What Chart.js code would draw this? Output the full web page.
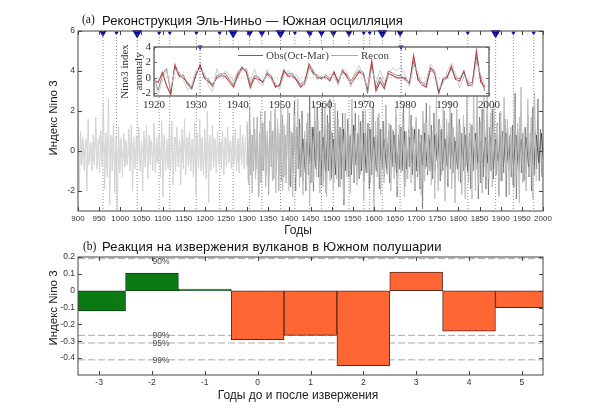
<!DOCTYPE html>
<html>
<head>
<meta charset="utf-8">
<script src="https://cdn.jsdelivr.net/npm/chart.js@4"></script>
<style>
    body { margin: 0; background: #fff; width: 600px; height: 413px; overflow: hidden; }
    canvas { position: absolute; left: 0; }
    #mainChart { top: 0; }
    #insetChart { top: 0; }
    #responseChart { top: 240px; }
    .title { position: absolute; font-family: "Liberation Sans"; font-size: 13px; color: #111; white-space: nowrap; }
    .tag { position: absolute; font-family: "Liberation Serif"; font-size: 11.5px; color: #111; }
    .xlabel { position: absolute; font-family: "Liberation Sans"; font-size: 12px; color: #222; white-space: nowrap; transform: translate(-50%, -50%); }
    .ylabel { position: absolute; font-family: "Liberation Sans"; font-size: 11.5px; color: #222; white-space: nowrap; transform: translate(-50%, -50%) rotate(-90deg); }
</style>
</head>
<body>
<canvas id="mainChart" width="600" height="240"></canvas>
<canvas id="responseChart" width="600" height="173"></canvas>
<canvas id="insetChart" width="600" height="115"></canvas>
<div class="tag" style="left:82px;top:13px">(a)</div>
<div class="title" style="left:102px;top:13px;letter-spacing:.08px">Реконструкция Эль-Ниньо — Южная осцилляция</div>
<div class="tag" style="left:83px;top:240px">(b)</div>
<div class="title" style="left:102px;top:239px;letter-spacing:.15px">Реакция на извержения вулканов в Южном полушарии</div>
<div class="ylabel" style="left:53px;top:118px">Индекс Nino 3</div>
<div class="xlabel" style="left:298px;top:230px">Годы</div>
<div class="ylabel" style="left:53px;top:308px">Индекс Nino 3</div>
<div class="xlabel" style="left:298px;top:395px">Годы до и после извержения</div>

<script>
// main reconstruction, every 3 years from 900
const reconEarly = [
    1.9,-2.0,1.0,-0.7,0.5,-1.0,0.6,-2.0,1.6,-0.6,0.4,-1.0,0.8,-0.7,1.7,-0.9,0.6,-1.1,1.0,-0.8,
    2.4,-1.9,0.9,-1.3,2.6,-2.7,0.8,-1.0,1.4,-2.1,0.7,-3.0,1.2,-1.1,0.6,-1.3,0.9,-0.8,0.5,-0.7,
    1.1,-1.0,1.3,-2.0,0.7,-0.9,0.8,-0.6,1.2,-1.0,0.5,-2.0,1.0,-0.8,1.3,-1.4,0.8,-0.7,0.5,-1.0,
    1.4,-1.1,0.7,-0.6,0.9,-1.3,1.5,-2.3,0.8,-1.0,0.6,-0.9,1.3,-1.0,1.5,-1.7,0.7,-1.0,1.2,-0.8,
    0.6,-1.7,1.1,-0.9,1.6,-1.2,0.7,-0.8,1.0,-1.0,0.6,-1.3,1.4,-2.2,0.9,-0.9,1.6,-1.0,0.7,-1.2,
    1.1,-1.4,2.0,-2.6,0.8,-1.0,1.3,-0.8,0.6,-1.1,1.0,-0.7,0.5,-0.9,1.0,-1.2,0.7,-0.8,1.2,-0.6,
    0.5,-0.9,0.8,-0.7,1.1,-1.0,0.6,-1.1,1.3,-0.7,0.8,-0.9,0.7,-0.8
];
// low amplitude band of the early part, every 5 years from 901
const reconEarlyCore = [
    0.4,-0.5,0.7,-0.3,0.5,-0.7,0.3,-0.4,0.6,-0.5,0.8,-0.6,0.4,-0.8,0.6,-0.4,0.7,-0.5,0.3,-0.6,
    0.5,-0.4,0.6,-0.7,0.4,-0.3,0.5,-0.6,0.7,-0.4,0.3,-0.5,0.6,-0.7,0.5,-0.3,0.4,-0.6,0.8,-0.5,
    0.6,-0.4,0.3,-0.7,0.5,-0.5,0.7,-0.3,0.4,-0.6,0.6,-0.4,0.5,-0.7,0.3,-0.5,0.7,-0.4,0.5,-0.6,
    0.4,-0.3,0.6,-0.5,0.7,-0.6,0.3,-0.4,0.5,-0.7,0.6,-0.3,0.4,-0.5,0.7,-0.6,0.5,-0.4
];
// transition, every 3 years from 1300
const reconMiddle = [
    1.3,-1.5,2.2,-1.2,0.8,-1.0,1.1,-0.9,1.7,-2.3,0.9,-1.6,1.4,-1.0,2.0,-1.2,0.9,-2.2,1.5,-0.8,
    1.0,-1.4,2.1,-1.1,1.3,-2.0,0.9,-1.5,1.8,-1.3,0.8,-1.2,2.2,-2.0
];
// dark ensemble member, every 3 years from 1400
const reconLate = [
    1.9,-1.8,0.9,-1.1,2.5,-2.0,1.2,-0.9,1.6,-1.3,2.0,-1.5,0.8,-2.0,1.4,-1.2,2.8,-1.6,1.1,-2.0,
    1.5,-0.9,2.2,-1.3,1.0,-1.7,2.4,-1.5,1.3,-2.1,1.8,-1.0,2.6,-1.4,0.9,-1.6,1.5,-1.2,2.0,-1.8,
    1.2,-1.4,1.9,-2.7,1.0,-1.0,1.6,-1.3,0.8,-1.1,1.3,-1.6,1.9,-1.0,0.9,-1.4,1.5,-0.8,2.0,-1.5,
    1.0,-1.1,1.4,-1.9,1.1,-1.2,2.2,-1.5,0.8,-1.0,1.7,-1.9,1.1,-0.9,1.5,-1.3,2.3,-1.1,0.7,-1.6,
    1.3,-0.8,1.0,-1.0,1.7,-2.3,0.8,-0.9,1.2,-1.0,2.3,-1.8,0.9,-1.4,1.1,-0.8,1.8,-1.2,0.7,-2.0,
    1.5,-1.3,1.1,-1.9,0.8,-2.9,1.4,-0.9,2.4,-1.2,0.8,-1.0,1.3,-1.4,1.9,-1.0,0.9,-0.8,1.6,-1.5,
    1.1,-1.0,2.0,-1.3,0.8,-1.8,1.4,-0.9,1.9,-1.1,0.7,-1.0,1.3,-0.9,1.6,-1.6,0.9,-1.0,1.2,-0.8,
    1.7,-1.1,0.9,-1.9,1.3,-1.0,0.8,-0.9,1.5,-2.4,1.7,-1.6,2.1,-1.3,1.0,-1.9,1.8,-2.2,1.2,-1.0,
    2.1,-1.4,0.9,-1.2,1.4,-2.2,1.9,-1.5,1.0,-1.1,1.6,-2.3,1.2,-1.0,0.8,-1.3,1.3,-1.8,2.9,-2.4,
    1.1,-1.0,1.7,-1.1,0.9,-1.5,1.2,-1.0,1.8,-1.3,0.9,-2.0,2.2,-1.2,1.0,-0.9,2.6,-1.5,1.1,-1.3
];
// lighter ensemble member behind it, every 4 years from 1300
const reconBackdrop = [
    1.5,-1.7,1.0,-2.1,1.7,-1.4,1.2,-2.2,2.0,-1.0,1.4,-1.8,1.0,-1.3,2.0,-1.5,1.1,-2.1,1.6,-1.2,
    2.4,-2.0,1.3,-1.6,2.2,-1.7,1.0,-2.3,1.8,-1.3,2.6,-1.8,1.4,-2.2,1.0,-1.5,1.9,-2.7,1.2,-1.6,
    2.3,-1.3,1.6,-2.1,1.0,-1.8,2.2,-2.3,1.4,-1.5,1.0,-2.0,2.4,-1.4,1.6,-1.8,1.1,-2.4,1.9,-1.3,
    1.3,-2.1,2.6,-1.5,1.0,-1.7,1.8,-1.2,1.4,-2.5,2.0,-1.1,1.2,-1.6,2.1,-3.0,1.5,-1.3,1.9,-2.2,
    1.0,-1.6,2.3,-1.2,1.4,-2.0,1.1,-1.4,2.2,-1.8,1.3,-1.1,1.9,-2.3,1.0,-1.4,2.4,-1.6,1.2,-1.9,
    1.7,-1.2,1.1,-2.2,2.0,-1.5,1.4,-1.0,2.3,-1.7,1.0,-2.4,2.7,-2.0,1.3,-1.2,2.2,-2.5,1.6,-1.4,
    2.5,-1.9,1.2,-2.6,2.1,-1.5,1.3,-2.2,1.8,-2.4,3.0,-1.6,1.4,-2.4,2.8,-2.0,3.3,-1.7,1.5,-2.1,
    2.7,-1.3,2.9,-1.4,1.9,-1.8,2.4,-1.2,1.3,-2.3,2.0,-1.5,2.7,-1.1,1.6,-2.2,1.2,-1.7,2.5,-1.3,
    1.4,-2.6,3.2,-1.6,1.1,-2.0,2.6,-1.2,1.7,-2.4,2.9,-1.5
];
// dense core of the late ensemble, every 6 years from 1420
const reconCore = [
    0.8,-0.9,0.6,-1.1,1.0,-0.7,1.2,-0.8,0.9,-1.3,0.7,-1.0,1.3,-0.9,0.6,-1.2,1.0,-0.8,1.1,-1.0,
    0.7,-1.2,1.3,-0.7,0.8,-1.0,0.9,-1.1,1.2,-0.6,0.7,-1.0,1.1,-0.8,0.6,-0.9,1.0,-0.7,0.8,-1.1,
    0.6,-0.8,1.0,-0.9,0.7,-0.6,1.1,-1.0,0.5,-0.7,0.9,-0.8,0.6,-1.0,0.8,-0.5,1.0,-0.7,0.6,-0.8,
    0.9,-0.6,0.5,-0.9,0.7,-0.5,0.8,-1.0,0.6,-0.7,0.9,-0.6,0.5,-0.8,0.7,-0.6,0.8,-0.9,0.6,-0.5,
    0.7,-0.8,0.9,-0.6,0.5,-0.7,0.8,-0.9,0.6,-0.6,0.7,-0.8,0.5,-0.9,0.8,-0.6,0.9,-0.7,0.6,-0.8
];

const eruptionYears = [959,991,1040,1092,1117,1180,1235,1267,1306,1335,1379,1413,1448,1476,1504,1541,1576,1590,1620,1662,1822,1888,1930,1978];
const eruptionMagnitudes = [2,1,3,1,1,1,1,3,2,2,3,1,2,2,2,2,1,1,3,2,1,3,1,1];

// inset: Oct-Mar observations and reconstructions, 1920-1999
const insetYears = [1920,1921,1922,1923,1924,1925,1926,1927,1928,1929,1930,1931,1932,1933,1934,1935,1936,1937,1938,1939,
    1940,1941,1942,1943,1944,1945,1946,1947,1948,1949,1950,1951,1952,1953,1954,1955,1956,1957,1958,1959,
    1960,1961,1962,1963,1964,1965,1966,1967,1968,1969,1970,1971,1972,1973,1974,1975,1976,1977,1978,1979,
    1980,1981,1982,1983,1984,1985,1986,1987,1988,1989,1990,1991,1992,1993,1994,1995,1996,1997,1998,1999];
const obsValues = [-0.3,-0.6,0.7,-1.0,-2.2,1.7,0.3,0,-0.6,-1.3,0.3,1.7,0,-0.5,-0.9,0,0.3,0.2,-0.5,-1.2,
    0.5,1.4,0.8,-1.3,0,-0.2,-0.5,0.5,0,-1.2,-0.9,1.0,0.2,0.3,-0.3,-1.2,-0.7,1.8,0.8,0,
    0,0.1,-0.4,0.8,-0.7,1.0,0.2,-0.8,0,0.8,0.4,-1.4,2.2,-1.7,-0.5,-1.4,0.6,0.3,0,0,
    0,-0.8,2.9,-0.2,-0.9,-1.2,1.3,0.8,-2.0,-0.3,0,1.5,-0.2,-0.4,0.9,-1.0,-0.9,3.5,-0.5,-1.2];
const reconDarkValues = [-0.1,-1.6,0.4,1.2,-1.9,1.4,0.2,0.4,-0.9,-1.5,0.5,1.4,0.2,-0.2,-1.2,0.3,0.5,0.6,-0.2,-0.9,
    0.1,1.2,1.0,-0.9,0.3,0.1,-0.7,0.7,0.3,-1.0,-1.1,0.7,0.5,0.6,-0.1,-0.9,-0.4,1.4,0.5,0.4,
    -0.2,0.4,-0.1,0.6,-0.4,0.7,0.5,-0.4,0.4,1.0,0.7,-2.0,1.7,-1.3,0.1,-1.0,0.9,0.6,0.3,0.3,
    -0.3,-0.6,2.2,0.1,-0.6,-0.9,1.0,0.6,-1.9,-0.1,0.2,1.2,0,-0.1,0.7,-0.7,-0.6,2.7,0,-1.7];
const reconLightValues = [0.4,-2.2,-0.4,1.0,-1.3,1.0,0.8,-0.2,-1.6,-1.0,1.0,0.9,0.7,-1.0,-1.8,1.2,0.1,0.9,0.5,-0.5,
    0.9,0.8,1.3,-0.5,1.2,-0.6,-1.0,1.1,-0.3,-0.6,-1.5,0.3,0.9,0.2,0.4,-0.5,-1.0,1.0,1.2,-0.3,
    0.3,-0.2,0.5,0.2,-1.0,1.2,0.9,-1.2,0.7,1.6,0.1,-1.2,1.1,-0.7,1.0,-0.4,0.3,1.3,0.9,1.5,
    0.3,-1.1,1.6,0.8,-1.0,-0.4,1.8,1.0,-1.4,-0.8,0.8,1.9,0.6,-1.3,0.2,-0.2,-1.2,2.0,0.5,-1.0];
const insetEruptionYears = [1931,1979];
const insetTicksX = [1920,1930,1940,1950,1960,1970,1980,1990,2000];
const insetTicksY = [4,2,0,-2];

// panel (b): composite response
const lagYears = [-3,-2,-1,0,1,2,3,4,5];
const lagResponse = [-0.12,0.105,0.01,-0.29,-0.265,-0.445,0.11,-0.24,-0.1];
const lagIsBefore = [true,true,true,false,false,false,false,false,false];
const levelValues = [0.19,-0.265,-0.31,-0.41];
const levelLabels = ["90%","90%","95%","99%"];
const levelLabelValues = [0.17,-0.265,-0.315,-0.415];

const mainTicksX = [900,950,1000,1050,1100,1150,1200,1250,1300,1350,1400,1450,1500,1550,1600,1650,1700,1750,1800,1850,1900,1950,2000];
const mainTicksY = [6,4,2,0,-2];
const lagTicksY = [0.2,0.1,0,-0.1,-0.2,-0.3,-0.4];

const sans = "Liberation Sans";
const serif = "Liberation Serif";

function toSeries(values, start, step) {
    return values.map((v, i) => ({ x: start + i * step, y: v }));
}

function verticalDrops(years, top, bottom) {
    const pts = [];
    years.forEach((year) => {
        pts.push({ x: year, y: top }, { x: year, y: bottom }, { x: year, y: null });
    });
    return pts;
}

function setTicks(values) {
    return (scale) => { scale.ticks = values.map((v) => ({ value: v })); };
}

// MATLAB style box with ticks pointing inward on all four sides
function boxPlugin(color, lineWidth, tickLen) {
    return {
        id: "box",
        beforeDatasetsDraw(chart) {
            const area = chart.chartArea;
            if (!chart.options.fillArea) return;
            chart.ctx.fillStyle = "#fff";
            chart.ctx.fillRect(area.left, area.top, area.width, area.height);
        },
        afterDatasetsDraw(chart) {
            const { ctx, chartArea: area, scales } = chart;
            ctx.save();
            ctx.strokeStyle = color;
            ctx.lineWidth = lineWidth;
            ctx.strokeRect(area.left, area.top, area.width, area.height);
            ctx.lineWidth = 1;
            ctx.beginPath();
            scales.x.ticks.forEach((t) => {
                const px = Math.round(scales.x.getPixelForValue(t.value)) + 0.5;
                ctx.moveTo(px, area.top); ctx.lineTo(px, area.top + tickLen);
                ctx.moveTo(px, area.bottom); ctx.lineTo(px, area.bottom - tickLen);
            });
            scales.y.ticks.forEach((t) => {
                const py = Math.round(scales.y.getPixelForValue(t.value)) + 0.5;
                ctx.moveTo(area.left, py); ctx.lineTo(area.left + tickLen, py);
                ctx.moveTo(area.right, py); ctx.lineTo(area.right - tickLen, py);
            });
            ctx.stroke();
            ctx.restore();
        }
    };
}

function axisBase(min, max, ticks, font, color, size) {
    return {
        type: "linear",
        min: min,
        max: max,
        afterBuildTicks: setTicks(ticks),
        grid: { display: false, drawTicks: false },
        border: { display: false },
        ticks: { autoSkip: false, maxRotation: 0, padding: 3, color: color, font: { family: font, size: size }, callback: (v) => String(v) }
    };
}

const lineStyle = { pointRadius: 0, tension: 0, fill: false };

// ---- panel (a) ----
const mainX = axisBase(900, 2000, mainTicksX, sans, "#333", 8);
mainX.afterFit = (scale) => { scale.height = 29; };
const mainY = axisBase(-3, 6, mainTicksY, sans, "#333", 8.5);
mainY.afterFit = (scale) => { scale.width = 78; };

new Chart(document.getElementById("mainChart"), {
    type: "line",
    plugins: [boxPlugin("#444", 1, 4)],
    data: {
        datasets: [
            { ...lineStyle, data: toSeries(reconEarlyCore, 901, 5), borderColor: "#dadada", borderWidth: 1.2 },
            { ...lineStyle, data: toSeries(reconEarly, 900, 3), borderColor: "#d2d2d2", borderWidth: 1 },
            { ...lineStyle, data: toSeries(reconBackdrop, 1300, 4), borderColor: "#bdbdbd", borderWidth: 1 },
            { ...lineStyle, data: toSeries(reconMiddle, 1300, 3), borderColor: "#a8a8a8", borderWidth: 0.9 },
            { ...lineStyle, data: toSeries(reconLate, 1400, 3), borderColor: "#6a6a6a", borderWidth: 0.7 },
            { ...lineStyle, data: toSeries(reconCore, 1420, 6), borderColor: "#4c4c4c", borderWidth: 1 },
            { ...lineStyle, data: verticalDrops(eruptionYears, 6, -3), borderColor: "#7f7f8c", borderWidth: 0.9, borderDash: [1, 2], spanGaps: false },
            {
                data: eruptionYears.map((year) => ({ x: year, y: 5.9 })),
                showLine: false,
                clip: false,
                pointStyle: "triangle",
                rotation: 180,
                pointBackgroundColor: "#0a0aa5",
                pointBorderColor: "#0a0aa5",
                pointBorderWidth: 0,
                pointRadius: eruptionMagnitudes.map((m) => 0.8 + m * 1.6)
            }
        ]
    },
    options: {
        responsive: false,
        animation: false,
        layout: { padding: { top: 31, right: 57, left: 0, bottom: 0 } },
        plugins: { legend: { display: false }, tooltip: { enabled: false } },
        scales: { x: mainX, y: mainY }
    }
});

// ---- inset ----
const insetLegend = {
    id: "insetLegend",
    afterDatasetsDraw(chart) {
        const ctx = chart.ctx;
        ctx.save();
        ctx.font = "11px " + serif;
        ctx.textBaseline = "middle";
        ctx.fillStyle = "#444";
        ctx.fillText("Obs(Oct-Mar)", 266, 56);
        ctx.fillText("Recon", 361, 56);
        ctx.lineWidth = 1;
        ctx.strokeStyle = "#c33c42";
        ctx.beginPath(); ctx.moveTo(238, 55.5); ctx.lineTo(263, 55.5); ctx.stroke();
        ctx.strokeStyle = "#aaa";
        ctx.beginPath(); ctx.moveTo(331, 55.5); ctx.lineTo(358, 55.5); ctx.stroke();
        ctx.restore();
    }
};

const insetX = axisBase(1920, 2000, insetTicksX, serif, "#333", 11);
insetX.afterFit = (scale) => { scale.height = 19; };
const insetY = axisBase(-2.35, 4, insetTicksY, serif, "#333", 11);
insetY.afterFit = (scale) => { scale.width = 154; };
insetY.title = { display: true, text: ["Nino3 index", "anomaly"], color: "#333", font: { family: serif, size: 11 }, padding: { top: 119, bottom: 0 } };

new Chart(document.getElementById("insetChart"), {
    type: "line",
    plugins: [boxPlugin("#666", 1.4, 3), insetLegend],
    data: {
        datasets: [
            { ...lineStyle, data: insetYears.map((y) => ({ x: y, y: 0 })), borderColor: "#d98a8a", borderWidth: 0.8, borderDash: [1, 2] },
            { ...lineStyle, data: verticalDrops(insetEruptionYears, 4, -2.35), borderColor: "#3a3a8a", borderWidth: 0.9, borderDash: [1, 2] },
            { ...lineStyle, data: insetYears.map((y, i) => ({ x: y, y: reconLightValues[i] })), borderColor: "#c8c8c8", borderWidth: 0.9 },
            { ...lineStyle, data: insetYears.map((y, i) => ({ x: y, y: reconDarkValues[i] })), borderColor: "#666", borderWidth: 0.8 },
            { ...lineStyle, data: insetYears.map((y, i) => ({ x: y, y: obsValues[i] })), borderColor: "#c33c42", borderWidth: 1.1 },
            {
                data: insetEruptionYears.map((year) => ({ x: year, y: 4 })),
                showLine: false,
                clip: false,
                pointStyle: "triangle",
                rotation: 180,
                pointBackgroundColor: "#0a0aa5",
                pointBorderWidth: 0,
                pointRadius: 3
            }
        ]
    },
    options: {
        responsive: false,
        animation: false,
        fillArea: true,
        layout: { padding: { top: 47, right: 111, left: 0, bottom: 0 } },
        plugins: { legend: { display: false }, tooltip: { enabled: false } },
        scales: { x: insetX, y: insetY }
    }
});

// ---- panel (b) ----
const levelText = {
    id: "levelText",
    afterDatasetsDraw(chart) {
        const { ctx, scales } = chart;
        ctx.save();
        ctx.font = "8.5px " + sans;
        ctx.textAlign = "center";
        ctx.textBaseline = "middle";
        ctx.fillStyle = "#444";
        levelLabels.forEach((label, i) => {
            ctx.fillText(label, scales.x.getPixelForValue(-1.83), scales.y.getPixelForValue(levelLabelValues[i]));
        });
        ctx.restore();
    }
};

const lagX = axisBase(-3.4, 5.4, lagYears, sans, "#333", 8.5);
lagX.offset = false;
lagX.afterFit = (scale) => { scale.height = 38; };
const lagY = axisBase(-0.5, 0.2, lagTicksY, sans, "#333", 8.5);
lagY.afterFit = (scale) => { scale.width = 78; };

new Chart(document.getElementById("responseChart"), {
    type: "bar",
    plugins: [boxPlugin("#444", 1, 4), levelText],
    data: {
        datasets: [
            {
                order: 1,
                data: lagYears.map((x, i) => ({ x: x, y: lagResponse[i] })),
                backgroundColor: lagIsBefore.map((b) => (b ? "#0b7a12" : "#ff6633")),
                borderColor: lagIsBefore.map((b) => (b ? "#0a4a10" : "#5a2a1a")),
                borderWidth: 1,
                borderSkipped: false,
                barPercentage: 1,
                categoryPercentage: 1
            },
            ...levelValues.map((level) => ({
                ...lineStyle,
                type: "line",
                order: 2,
                data: [{ x: -3.4, y: level }, { x: 5.4, y: level }],
                borderColor: "#aaa",
                borderWidth: 1,
                borderDash: [7, 3]
            }))
        ]
    },
    options: {
        responsive: false,
        animation: false,
        layout: { padding: { top: 17, right: 57, left: 0, bottom: 0 } },
        plugins: { legend: { display: false }, tooltip: { enabled: false } },
        scales: { x: lagX, y: lagY }
    }
});
</script>
</body>
</html>
